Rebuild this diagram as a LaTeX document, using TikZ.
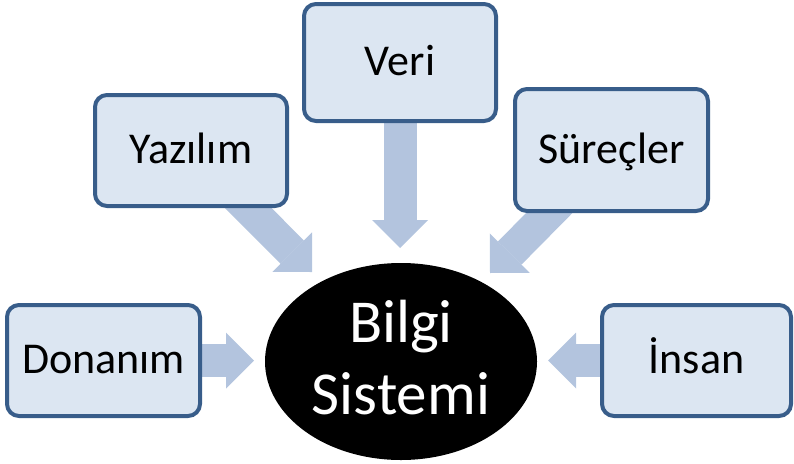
\documentclass[tikz,border=0pt]{standalone}
\usepackage{fontspec}
\setmainfont{Carlito}
\usetikzlibrary{arrows.meta,shapes.geometric,backgrounds}
\definecolor{boxfill}{HTML}{DCE6F2}
\definecolor{boxline}{HTML}{385D8A}
\definecolor{flow}{HTML}{B3C4DE}
\begin{document}
\begin{tikzpicture}[x=1pt,y=-1pt,
  part/.style={draw=boxline, fill=boxfill, line width=4pt, rounded corners=12pt,
    inner sep=0pt, font=\fontsize{44}{53}\selectfont, text height=30pt, text depth=4pt},
  core/.style={ellipse, fill=black, inner sep=0pt},
  feed/.style={draw=flow, line width=33pt,
    -{Triangle[length=28pt, width=56pt, line width=0pt]}}
]
\useasboundingbox (0,0) rectangle (794,463);

% component boxes
\node[part, minimum width=193pt, minimum height=111pt] (don)   at (103.5,360.5) {Donanım};
\node[part, minimum width=192pt, minimum height=111pt] (yaz)   at (191,150.5)   {Yazılım};
\node[part, minimum width=192pt, minimum height=117pt] (veri)  at (400,62.5)    {Veri};
\node[part, minimum width=193pt, minimum height=122pt] (sur)   at (611.5,150)   {Süreçler};
\node[part, minimum width=189pt, minimum height=111pt] (insan) at (696.5,360.5) {İnsan};

% central system
\node[core, minimum width=272pt, minimum height=197pt] (sys) at (401,361.5) {};
\node[text=white, align=center, inner sep=0pt, font=\fontsize{61}{72}\selectfont]
  (sysname) at (401,358) {Bilgi\\Sistemi};

% arrow tips
\coordinate (tdon)  at (254,360.5);
\coordinate (tyaz)  at (312,272);
\coordinate (tveri) at (400,248);
\coordinate (tsur)  at (490,273);
\coordinate (tins)  at (548,360.5);

\begin{scope}[on background layer]
  \draw[feed] (don.center)   -- (tdon);
  \draw[feed] (yaz.center)   -- (tyaz);
  \draw[feed] (veri.center)  -- (tveri);
  \draw[feed] (sur.center)   -- (tsur);
  \draw[feed] (insan.center) -- (tins);
\end{scope}
\end{tikzpicture}
\end{document}
